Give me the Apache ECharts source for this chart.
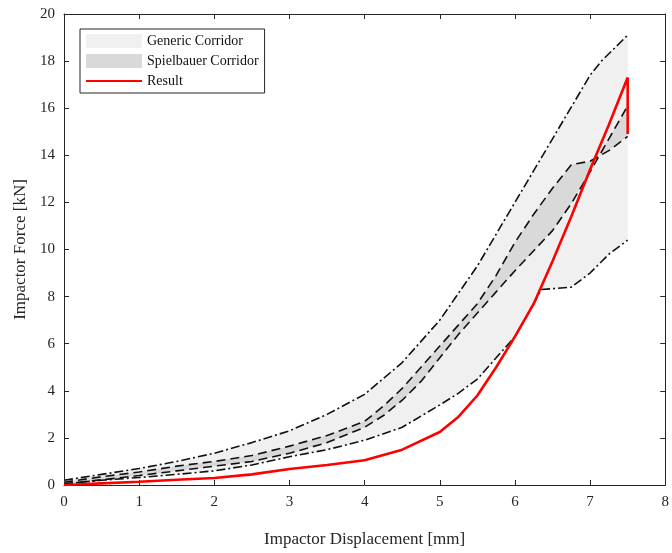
<!DOCTYPE html>
<html>
<head>
<meta charset="utf-8">
<script src="https://cdn.jsdelivr.net/npm/echarts@6/dist/echarts.min.js"></script>
<style>
html, body { margin: 0; padding: 0; background: #fff; }
#chart { width: 672px; height: 553px; }
</style>
</head>
<body>
<div id="chart"></div>
<script>
// generic corridor bounds (dash-dot)
var upperX = [0, 0.5, 1, 1.5, 2, 2.5, 3, 3.5, 4, 4.5, 5, 5.5, 6, 6.5, 7, 7.15, 7.5];
var genericUpper = [0.2, 0.45, 0.7, 1.0, 1.35, 1.8, 2.3, 3.0, 3.85, 5.2, 7.0, 9.3, 12.0, 14.7, 17.4, 18.0, 19.1];
var lowerX = [0, 0.5, 1, 1.5, 2, 2.5, 3, 3.5, 4, 4.5, 5, 5.25, 5.5, 5.75, 6, 6.2, 6.35, 6.75, 7, 7.25, 7.5];
var genericLower = [0.05, 0.2, 0.32, 0.45, 0.6, 0.85, 1.2, 1.5, 1.9, 2.45, 3.4, 3.9, 4.5, 5.4, 6.3, 7.4, 8.3, 8.4, 9.0, 9.8, 10.4];

// spielbauer corridor bounds (dashed)
var spielX = [0, 0.5, 1, 1.5, 2, 2.5, 3, 3.5, 4, 4.25, 4.5, 4.75, 5, 5.25, 5.5, 5.75, 6, 6.25, 6.5, 6.75, 7, 7.25, 7.5];
var spielA = [0.12, 0.35, 0.55, 0.8, 1.0, 1.25, 1.65, 2.1, 2.7, 3.35, 4.1, 5.0, 5.9, 6.8, 7.7, 8.9, 10.3, 11.5, 12.6, 13.6, 13.75, 14.2, 14.8];
var spielB = [0.05, 0.22, 0.4, 0.6, 0.8, 1.0, 1.35, 1.8, 2.45, 2.95, 3.6, 4.4, 5.4, 6.4, 7.3, 8.2, 9.1, 9.95, 10.8, 11.95, 13.3, 14.7, 16.1];

// simulation result
var resultX = [0, 0.5, 1, 1.5, 2, 2.5, 3, 3.5, 4, 4.5, 5, 5.25, 5.5, 5.75, 6, 6.25, 6.5, 6.75, 7, 7.25, 7.5, 7.5];
var result = [0, 0.07, 0.14, 0.22, 0.3, 0.45, 0.68, 0.85, 1.05, 1.5, 2.25, 2.9, 3.8, 5.0, 6.3, 7.7, 9.5, 11.4, 13.4, 15.3, 17.3, 14.9];

var xTicks = [0, 8, 1];
var yTicks = [0, 20, 2];

function pairs(xs, ys) {
    return xs.map(function (x, i) { return [x, ys[i]]; });
}

// polygon between two bounds, drawn through the axis scales
function band(xa, ya, xb, yb, color) {
    return function (params, api) {
        var pts = [];
        for (var i = 0; i < xa.length; i++) pts.push(api.coord([xa[i], ya[i]]));
        for (var j = xb.length - 1; j >= 0; j--) pts.push(api.coord([xb[j], yb[j]]));
        return { type: 'polygon', shape: { points: pts }, style: { fill: color } };
    };
}

var font = 'Liberation Serif';
var axisColor = '#262626';
var dashDot = [9, 3, 2, 3];
var dashed = [9, 5];

var chart = echarts.init(document.getElementById('chart'));

var option = {
    animation: false,
    textStyle: { fontFamily: font },
    grid: { left: 64, right: 1, top: 14, bottom: 61 },
    legend: {
        orient: 'vertical',
        left: 80,
        top: 29,
        padding: [5, 6, 5, 5],
        itemGap: 6,
        itemWidth: 56,
        itemHeight: 14,
        backgroundColor: '#fff',
        borderColor: axisColor,
        borderWidth: 1,
        borderRadius: 0,
        textStyle: { fontFamily: font, fontSize: 14, color: '#111' },
        data: [
            { name: 'Generic Corridor', icon: 'rect', itemStyle: { color: '#f0f0f0' } },
            { name: 'Spielbauer Corridor', icon: 'rect', itemStyle: { color: '#d9d9d9' } },
            { name: 'Result', itemStyle: { opacity: 0 } }
        ]
    },
    xAxis: [
        {
            type: 'value', min: xTicks[0], max: xTicks[1], interval: xTicks[2],
            name: 'Impactor Displacement [mm]', nameLocation: 'middle', nameGap: 46,
            nameTextStyle: { fontFamily: font, fontSize: 17, color: axisColor },
            axisLine: { onZero: false, lineStyle: { color: axisColor, width: 1 } },
            axisTick: { inside: true, length: 5, lineStyle: { color: axisColor } },
            axisLabel: { fontFamily: font, fontSize: 15, color: axisColor, margin: 10 },
            splitLine: { show: false }
        },
        {
            type: 'value', position: 'top', min: xTicks[0], max: xTicks[1], interval: xTicks[2],
            axisLine: { onZero: false, lineStyle: { color: axisColor, width: 1 } },
            axisTick: { inside: true, length: 5, lineStyle: { color: axisColor } },
            axisLabel: { show: false },
            splitLine: { show: false }
        }
    ],
    yAxis: [
        {
            type: 'value', min: yTicks[0], max: yTicks[1], interval: yTicks[2],
            name: 'Impactor Force [kN]', nameLocation: 'middle', nameGap: 32,
            nameTextStyle: { fontFamily: font, fontSize: 17, color: axisColor },
            axisLine: { show: true, onZero: false, lineStyle: { color: axisColor, width: 1 } },
            axisTick: { show: true, inside: true, length: 5, lineStyle: { color: axisColor } },
            axisLabel: { fontFamily: font, fontSize: 15, color: axisColor, margin: 9 },
            splitLine: { show: false }
        },
        {
            type: 'value', position: 'right', min: yTicks[0], max: yTicks[1], interval: yTicks[2],
            axisLine: { show: true, onZero: false, lineStyle: { color: axisColor, width: 1 } },
            axisTick: { show: true, inside: true, length: 5, lineStyle: { color: axisColor } },
            axisLabel: { show: false },
            splitLine: { show: false }
        }
    ],
    series: [
        {
            name: 'Generic Corridor', type: 'custom', z: 1,
            itemStyle: { color: '#f0f0f0' },
            renderItem: band(upperX, genericUpper, lowerX, genericLower, '#f0f0f0'),
            data: [[0, 0]]
        },
        {
            name: 'Spielbauer Corridor', type: 'custom', z: 2,
            itemStyle: { color: '#d9d9d9' },
            renderItem: band(spielX, spielA, spielX, spielB, '#d9d9d9'),
            data: [[0, 0]]
        },
        {
            name: 'generic upper', type: 'line', z: 3, symbol: 'none',
            lineStyle: { color: '#111', width: 1.6, type: dashDot },
            data: pairs(upperX, genericUpper)
        },
        {
            name: 'generic lower', type: 'line', z: 3, symbol: 'none',
            lineStyle: { color: '#111', width: 1.6, type: dashDot },
            data: pairs(lowerX, genericLower)
        },
        {
            name: 'spielbauer a', type: 'line', z: 3, symbol: 'none',
            lineStyle: { color: '#111', width: 1.6, type: dashed },
            data: pairs(spielX, spielA)
        },
        {
            name: 'spielbauer b', type: 'line', z: 3, symbol: 'none',
            lineStyle: { color: '#111', width: 1.6, type: dashed },
            data: pairs(spielX, spielB)
        },
        {
            name: 'Result', type: 'line', z: 4, symbol: 'none',
            itemStyle: { color: '#ff0000' },
            lineStyle: { color: '#ff0000', width: 2.6 },
            data: pairs(resultX, result)
        }
    ]
};

chart.setOption(option);
</script>
</body>
</html>
